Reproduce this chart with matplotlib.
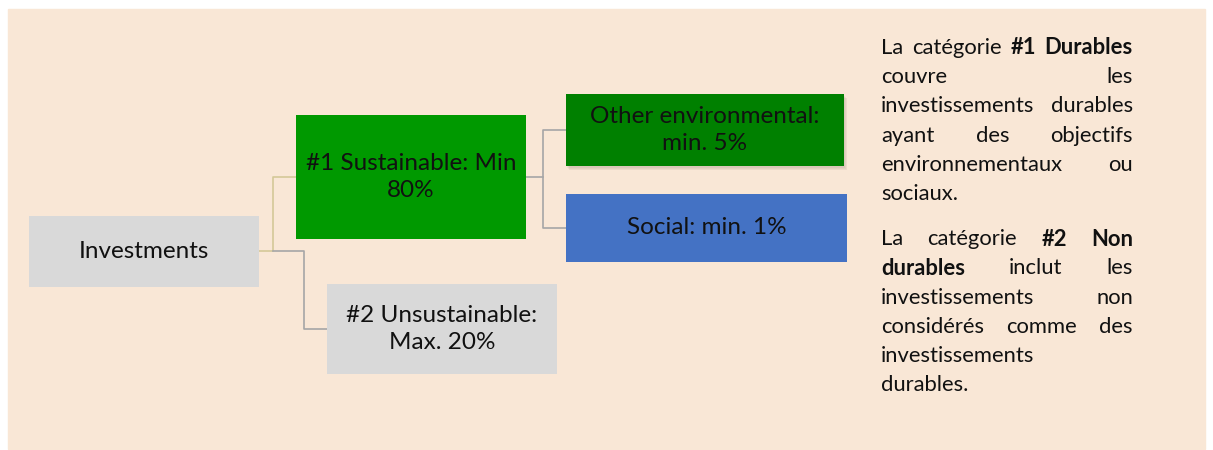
import matplotlib.pyplot as plt
from matplotlib.patches import Rectangle

plt.rcParams['font.family'] = ['Lato', 'DejaVu Sans']

# boxes of the tree
box_labels = ['Investments', '#1 Sustainable: Min\n80%', '#2 Unsustainable:\nMax. 20%',
              'Other environmental:\nmin. 5%', 'Social: min. 1%']
box_colors = ['#d9d9d9', '#009900', '#d9d9d9', '#008000', '#4472c4']

# right-hand note, one list of (word, bold) per line; last flag says justify
note_lines = [
    ([('La', 0), ('catégorie', 0), ('#1', 1), ('Durables', 1)], True),
    ([('couvre', 0), ('les', 0)], True),
    ([('investissements', 0), ('durables', 0)], True),
    ([('ayant', 0), ('des', 0), ('objectifs', 0)], True),
    ([('environnementaux', 0), ('ou', 0)], True),
    ([('sociaux.', 0)], False),
    None,
    ([('La', 0), ('catégorie', 0), ('#2', 1), ('Non', 1)], True),
    ([('durables', 1), ('inclut', 0), ('les', 0)], True),
    ([('investissements', 0), ('non', 0)], True),
    ([('considérés', 0), ('comme', 0), ('des', 0)], True),
    ([('investissements', 0)], False),
    ([('durables.', 0)], False),
]

# layout in pixels (x0, y0, x1, y1)
box_pos = [(29, 216, 259, 287), (296, 115, 526, 239), (327, 284, 557, 374),
           (566, 94, 844, 166), (566, 194, 847, 262)]

fig = plt.figure(figsize=(12.13, 4.5), dpi=100)
ax = fig.add_axes([0, 0, 1, 1])
ax.set_xlim(0, 1213)
ax.set_ylim(450, 0)
ax.axis('off')
fig.patch.set_facecolor('white')

ax.add_patch(Rectangle((8, 9), 1197, 440, color='#f9e7d6', zorder=0))

# connectors
tan = '#d4c898'
grey = '#a6a6a6'
ax.plot([259, 273, 273, 296], [251, 251, 177, 177], color=tan, lw=1.2, zorder=1)
ax.plot([273, 304, 304, 327], [251, 251, 329, 329], color=grey, lw=1.2, zorder=1)
ax.plot([526, 543], [177, 177], color=grey, lw=1.2, zorder=1)
ax.plot([566, 543, 543, 566], [130, 130, 228, 228], color=grey, lw=1.2, zorder=1)

# shadow behind the "other environmental" box
x0, y0, x1, y1 = box_pos[3]
for k, a in enumerate([0.08, 0.08, 0.1]):
    ax.add_patch(Rectangle((x0 + 1 + k, y0 + 2 + k), x1 - x0, y1 - y0,
                           color='#7a6a5a', alpha=a, lw=0, zorder=2))

for lab, col, (x0, y0, x1, y1) in zip(box_labels, box_colors, box_pos):
    ax.add_patch(Rectangle((x0, y0), x1 - x0, y1 - y0, color=col, lw=0, zorder=3))
    ax.text((x0 + x1) / 2, (y0 + y1) / 2, lab, ha='center', va='center',
            fontsize=17.5, color='#111111', linespacing=1.3, zorder=4)

# justified note text
renderer = fig.canvas.get_renderer()
left, right = 881, 1133
y = 48
for item in note_lines:
    if item is None:
        y += 16
        continue
    words, justify = item
    texts = []
    for w, b in words:
        t = ax.text(0, y, w, fontsize=15.8, fontweight='bold' if b else 'normal',
                    va='center', ha='left', color='#111111')
        texts.append(t)
    widths = [t.get_window_extent(renderer).width for t in texts]
    if justify and len(texts) > 1:
        gap = (right - left - sum(widths)) / (len(texts) - 1)
    else:
        gap = 5
    x = left
    for t, wd in zip(texts, widths):
        t.set_x(x)
        x += wd + gap
    y += 29.2

fig.savefig('out.png', dpi=100)
